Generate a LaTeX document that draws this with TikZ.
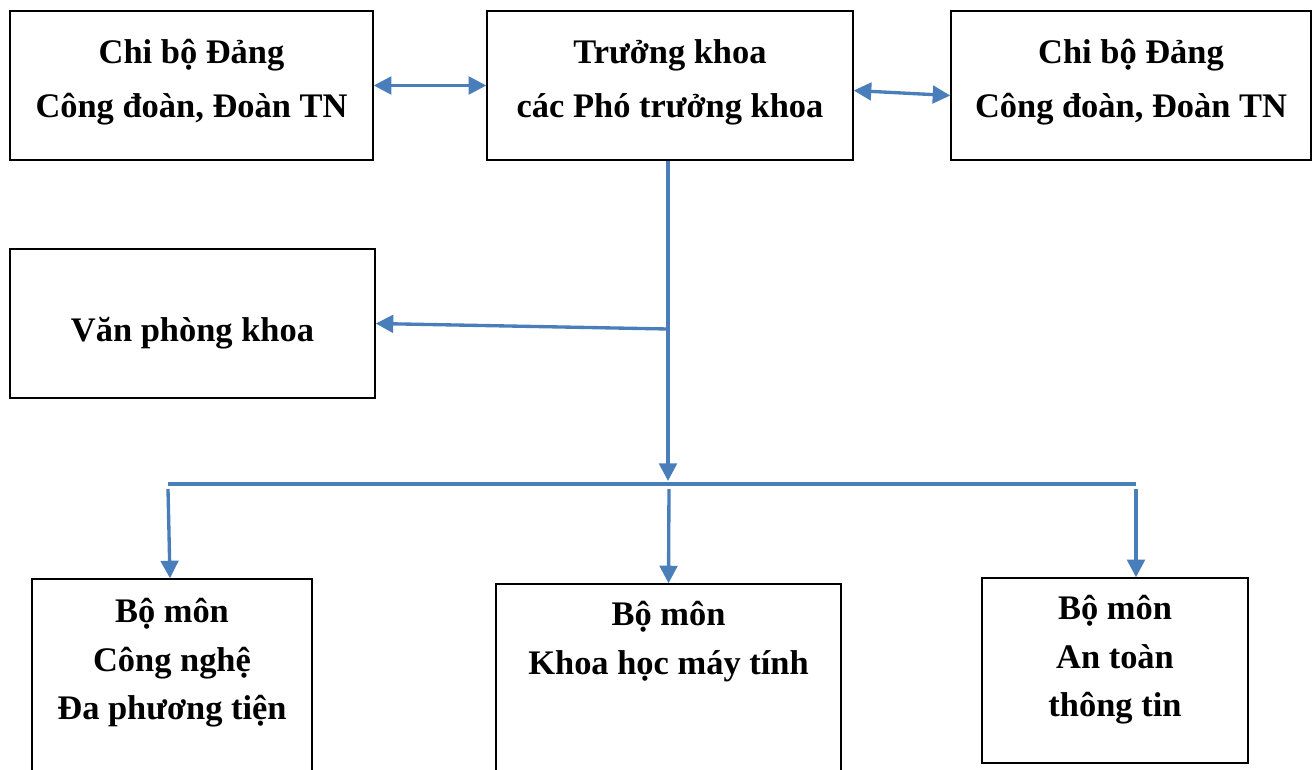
\documentclass[tikz,border=0pt]{standalone}
\usepackage{fontspec}
\setmainfont{Liberation Serif}
\usetikzlibrary{arrows.meta}
\definecolor{linkblue}{RGB}{74,126,187}

\begin{document}
\begin{tikzpicture}[
	box/.style={shape=rectangle,draw=black,line width=0.8pt,inner sep=0pt,align=center,font=\fontsize{19.6}{30.6}\selectfont\bfseries},
	frame/.style={shape=rectangle,draw=black,line width=0.8pt,inner sep=0pt},
	lines/.style={anchor=north,inner sep=0pt,align=center,font=\fontsize{19.6}{27.5}\selectfont\bfseries},
	wire/.style={draw=linkblue,line width=1.9pt},
	arrow/.style={wire,-{Triangle[length=10pt,width=10pt]}},
	duo/.style={wire,{Triangle[length=10pt,width=10pt]}-{Triangle[length=10pt,width=10pt]}}]

	\useasboundingbox (0,0) rectangle (26.26,-15.38);

	\node[box,minimum width=7.26cm,minimum height=2.98cm,text depth=8pt] (dang1)    at (3.83, -1.71)  {Chi bộ Đảng\\Công đoàn, Đoàn TN};
	\node[box,minimum width=7.32cm,minimum height=2.98cm,text depth=8pt] (truong)   at (13.40, -1.71) {Trưởng khoa\\các Phó trưởng khoa};
	\node[box,minimum width=7.20cm,minimum height=2.98cm,text depth=8pt] (dang2)    at (22.62, -1.71) {Chi bộ Đảng\\Công đoàn, Đoàn TN};
	\node[box,minimum width=7.30cm,minimum height=2.98cm,text height=25pt,text depth=5pt] (vanphong) at (3.85, -6.47)  {Văn phòng khoa};

	\node[frame,minimum width=5.60cm,minimum height=4.42cm] (bm1) at (3.44, -13.79)  {};
	\node[frame,minimum width=6.90cm,minimum height=4.32cm] (bm2) at (13.37, -13.84) {};
	\node[frame,minimum width=5.32cm,minimum height=3.70cm] (bm3) at (22.30, -13.41) {};
	\node[lines] (bm1t) at ([yshift=-0.40cm]bm1.north) {Bộ môn\\Công nghệ\\Đa phương tiện};
	\node[lines] (bm2t) at ([yshift=-0.36cm]bm2.north) {Bộ môn\\Khoa học máy tính};
	\node[lines] (bm3t) at ([yshift=-0.36cm]bm3.north) {Bộ môn\\An toàn\\thông tin};

	\coordinate (hub)  at (13.36, -9.62);
	\coordinate (knot) at (13.36, -6.58);
	\coordinate (busL) at (3.36, -9.68);
	\coordinate (busM) at (13.38, -9.68);
	\coordinate (busR) at (22.72, -9.68);

	\draw[duo] (dang1.east) -- (truong.west);
	\draw[duo] ([yshift=-0.1cm]truong.east) -- ([yshift=-0.2cm]dang2.west);
	\draw[arrow] (hub |- truong.south) -- (hub);
	\draw[arrow] (knot) -- (vanphong.east);
	\draw[wire] (busL) -- (busR);
	\draw[arrow] ([yshift=-0.1cm]busL) -- ([xshift=-0.04cm]bm1.north);
	\draw[arrow] ([yshift=-0.1cm]busM) -- (bm2.north);
	\draw[arrow] ([yshift=-0.1cm]busR) -- (busR |- bm3.north);

\end{tikzpicture}
\end{document}
